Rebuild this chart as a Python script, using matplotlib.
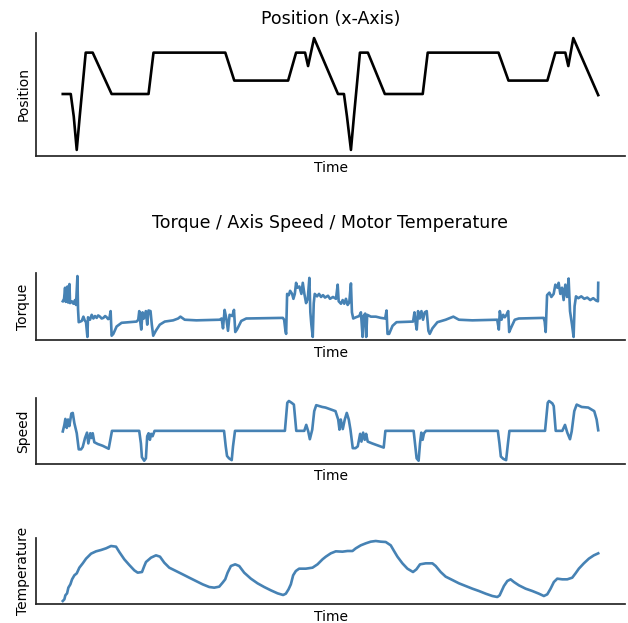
import matplotlib
matplotlib.use("Agg")
import matplotlib.pyplot as plt

# ---------------- data : (time, value) ----------------
position = [(0, 50), (8, 50), (11, 30), (14, 0), (17, 30), (23, 87), (30, 87), (49, 50),
            (86, 50), (91, 87), (163, 87), (172, 62), (226, 62), (234, 87), (243, 87),
            (246, 75), (252, 100), (276, 50), (282, 50), (285, 30), (289, 0), (292, 30),
            (298, 87), (306, 87), (323, 50), (361, 50), (366, 87), (437, 87), (447, 62),
            (486, 62), (494, 87), (504, 87), (507, 75), (512, 100), (537, 49)]

torque = [(0, 58), (1.3, 62), (2.3, 80), (3, 57), (4.7, 82), (5.3, 56), (6.7, 86), (7.3, 55),
          (9, 58), (10.7, 54), (12.3, 60), (13.3, 52), (14.7, 99), (15.3, 45), (16, 24),
          (19, 26), (20.7, 33), (22, 27), (23.3, 24), (24.7, 0), (25.3, 32), (27.3, 28),
          (29, 36), (30.7, 30), (32.3, 34), (34, 31), (35.5, 35), (37.3, 33), (39, 30),
          (40.7, 31), (42.5, 34), (44, 32), (45.5, 29), (46.7, 30), (48, 42), (49, 2),
          (50.7, 5), (54, 17), (59, 23), (74, 25), (75.7, 28), (76.7, 42), (77.7, 25),
          (78.7, 12), (80, 40), (81.3, 30), (83.3, 42), (84.7, 20), (86, 43), (88, 42),
          (89.3, 20), (90.7, 2), (93.3, 10), (97.3, 20), (102.3, 25), (110.7, 27),
          (115.7, 30), (118, 33), (122.3, 28), (134, 27), (157.3, 28), (159.3, 30),
          (160.7, 14), (162.3, 44), (164, 30), (165.7, 10), (167.3, 36), (170, 34),
          (171.7, 44), (173, 8), (174.7, 12), (179, 26), (184, 30), (220.7, 31), (222, 28),
          (223.3, 10), (224, 5), (225, 70), (226.7, 68), (228, 75), (230, 70), (231.3, 62),
          (232.7, 70), (234, 88), (235.3, 80), (237.3, 82), (239.3, 70), (240.7, 88),
          (242.3, 70), (244, 55), (245.7, 62), (247.3, 96), (248.3, 40), (249.3, 20),
          (250.7, 0), (251.7, 55), (252.7, 70), (255, 66), (257, 70), (259, 65), (261, 68),
          (263, 64), (266, 67), (268, 62), (271, 65), (274, 62), (275.7, 85), (276.7, 58),
          (279, 54), (280.7, 60), (282.3, 54), (284, 62), (285.7, 52), (287.3, 56),
          (289, 87), (290, 40), (291.3, 30), (294, 32), (297.3, 34), (299, 40), (300.7, 0),
          (301.7, 34), (303.3, 38), (304.3, 0), (305.3, 36), (309, 33), (314, 33),
          (319, 31), (323.3, 30), (324.7, 43), (325.7, 5), (327.3, 5), (330.7, 18),
          (334.7, 24), (351.3, 25), (352.7, 40), (354, 22), (355, 12), (356.3, 42),
          (358, 30), (359.7, 42), (361.3, 28), (363, 40), (365, 42), (366.7, 10), (368, 5),
          (370.7, 14), (375.7, 24), (384, 28), (391.7, 33), (397.3, 28), (410.7, 27),
          (435.7, 28), (437.3, 12), (438.3, 42), (440, 28), (441.7, 36), (443.3, 32),
          (445, 36), (446.7, 42), (447.7, 8), (449.3, 14), (453.3, 28), (457.3, 30),
          (482.3, 31), (483.3, 25), (484.3, 8), (485.7, 68), (488, 72), (490, 65),
          (492.3, 70), (494, 85), (496, 80), (497.3, 88), (499, 70), (500.7, 80),
          (502.3, 60), (504, 85), (505.7, 65), (507.3, 95), (508.7, 42), (510.7, 20),
          (512.3, 0), (513.3, 50), (514.7, 66), (517, 63), (520, 66), (523, 62), (526, 64),
          (529, 60), (532, 63), (535, 59), (536.7, 58), (537, 88)]

speed = [(0.7, 49), (2.3, 60), (3.3, 70), (4.7, 55), (6, 69), (7.3, 58), (9.3, 79),
         (10.7, 80), (12.3, 63), (14.7, 46), (16.7, 19), (19, 19), (20.7, 23), (23, 38),
         (25, 47), (26.3, 29), (28.3, 46), (29.7, 38), (30.7, 46), (32.3, 31), (35.7, 28),
         (40.7, 25), (46.7, 20), (50, 50), (77.3, 50), (79, 29), (80, 6), (82.3, 0), (84, 4),
         (85.3, 41), (86.7, 46), (88, 35), (89.3, 45), (90.7, 41), (92.7, 50), (162.3, 50),
         (164, 24), (165.3, 8), (167.3, 4), (170, 1), (171.3, 24), (173.3, 50), (223.3, 50),
         (225.7, 97), (227.3, 100), (230, 97), (232.3, 94), (234.7, 50), (242.7, 50),
         (244.7, 60), (246.7, 49), (248.3, 36), (250.7, 52), (252.7, 83), (254.7, 93),
         (260.7, 90), (264, 89), (270.7, 85), (274, 83), (276.7, 69), (278, 52), (279.3, 69),
         (281.3, 53), (283.3, 69), (285.3, 80), (287.3, 69), (289, 52), (291.3, 21),
         (294, 21), (296.3, 24), (298.7, 45), (300, 32), (301.7, 47), (303.3, 35),
         (304.7, 45), (306.3, 32), (310.7, 29), (317.3, 25), (322.3, 22), (324, 50),
         (352.3, 50), (354, 24), (355.3, 4), (357.3, 0), (358.7, 29), (360, 47), (361.3, 35),
         (362.7, 46), (364.7, 50), (436.7, 50), (438.3, 29), (439.7, 7), (442.3, 3),
         (445, 1), (446.7, 27), (448.3, 50), (484, 50), (486.7, 97), (488, 100),
         (491.3, 96), (492.7, 91.5), (494.7, 50), (501.3, 50), (504, 60), (506.3, 47),
         (509, 36), (510.7, 49), (513.3, 83), (515.7, 94), (520.7, 90), (527.3, 89),
         (533.3, 83), (535.7, 69), (537.3, 51)]

temperature = [(0.7, 40.0), (2.3, 41.0), (3.3, 43.4), (5, 44.6), (6.3, 48.0), (8.3, 50.0),
               (10, 53.0), (12.3, 55.4), (14.7, 56.6), (17.3, 60.0), (20.7, 62.6),
               (24, 65.4), (29, 68.4), (34, 69.8), (39, 70.6), (44, 71.6), (49, 73.0),
               (54, 72.6), (57.3, 69.4), (62.3, 65.0), (67.3, 61.6), (72.3, 58.4),
               (75.7, 57.0), (80, 57.4), (82.3, 61.0), (84, 63.4), (89, 66.0), (94, 67.4),
               (98, 66.6), (102.3, 63.0), (107.3, 60.0), (114, 58.0), (120.7, 56.0),
               (127.3, 54.0), (134, 52.0), (140.7, 50.0), (147.3, 48.4), (152.3, 48.0),
               (157.3, 48.6), (160.7, 51.0), (163.3, 53.0), (165.7, 57.0), (169, 61.0),
               (173.3, 62.0), (177.3, 61.0), (182.3, 57.0), (189, 53.4), (195.7, 50.6),
               (202.3, 48.4), (209, 46.4), (215.7, 44.6), (221.3, 43.6), (224, 44.4),
               (226.7, 47.0), (229, 50.0), (231.3, 55.4), (234, 58.0), (237.3, 59.4),
               (244, 59.4), (250.7, 60.0), (255.7, 62.0), (260.7, 65.0), (264, 66.6),
               (269, 68.6), (274, 69.8), (280.7, 69.6), (285.7, 70.0), (290.7, 70.0),
               (294, 71.6), (299, 73.4), (304, 74.6), (309, 75.6), (314, 76.0), (319, 75.6),
               (324, 75.4), (329, 73.4), (332.3, 70.0), (335.7, 66.6), (340.7, 62.6),
               (345.7, 59.4), (351.3, 57.4), (354.7, 59.0), (358.3, 62.0), (364, 62.6),
               (370.7, 62.6), (374, 61.0), (379, 57.4), (384, 54.6), (390.7, 52.6),
               (397.3, 50.6), (404, 49.0), (410.7, 47.4), (417.3, 46.0), (424, 44.4),
               (430.7, 43.0), (435.7, 42.4), (438, 43.4), (440, 46.0), (442.3, 49.0),
               (445.7, 52.0), (449, 53.0), (452.3, 51.4), (457.3, 49.4), (464, 47.4),
               (470.7, 46.0), (477.3, 44.4), (482.3, 43.0), (485.7, 44.0), (489, 47.4),
               (492.3, 51.4), (495.7, 53.4), (500.7, 53.0), (505.7, 53.0), (510.7, 54.0),
               (514, 56.6), (517.3, 59.4), (522.3, 62.6), (527.3, 65.4), (532.3, 67.4),
               (536.7, 68.6)]

pos_t, pos_v = [p[0] for p in position], [p[1] for p in position]
torque_t, torque_v = [p[0] for p in torque], [p[1] for p in torque]
speed_t, speed_v = [p[0] for p in speed], [p[1] for p in speed]
temp_t, temp_v = [p[0] for p in temperature], [p[1] for p in temperature]

# ---------------- figure ----------------
W, H = 628, 623
fig = plt.figure(figsize=(W / 100, H / 100), dpi=100)
plt.rcParams['font.family'] = ['DejaVu Sans']

def px_axes(top, bottom, left=36, right=625):
    return fig.add_axes([left / W, 1 - bottom / H, (right - left) / W, (bottom - top) / H])

blue = '#4682b4'
spine_c = '#262626'

def style(ax, ylabel):
    for s in ['top', 'right']:
        ax.spines[s].set_visible(False)
    for s in ['left', 'bottom']:
        ax.spines[s].set_color(spine_c)
        ax.spines[s].set_linewidth(1.25)
    ax.set_xticks([])
    ax.set_yticks([])
    ax.set_xlabel('Time', fontsize=10)
    ax.set_ylabel(ylabel, fontsize=10)

ax1 = px_axes(32.5, 155.5)
ax1.plot(pos_t, pos_v, color='black', lw=1.9)
style(ax1, 'Position')
ax1.set_title('Position (x-Axis)', fontsize=12.5)

ax2 = px_axes(273, 340)
ax2.plot(torque_t, torque_v, color=blue, lw=1.9)
style(ax2, 'Torque')

ax3 = px_axes(398, 463.7)
ax3.plot(speed_t, speed_v, color=blue, lw=1.9)
style(ax3, 'Speed')

ax4 = px_axes(538, 604)
ax4.plot(temp_t, temp_v, color=blue, lw=1.9)
style(ax4, 'Temperature')

fig.text(330 / W, 1 - 223 / H, 'Torque / Axis Speed / Motor Temperature',
         ha='center', va='center', fontsize=12.5)

fig.savefig('out.png', dpi=100)
